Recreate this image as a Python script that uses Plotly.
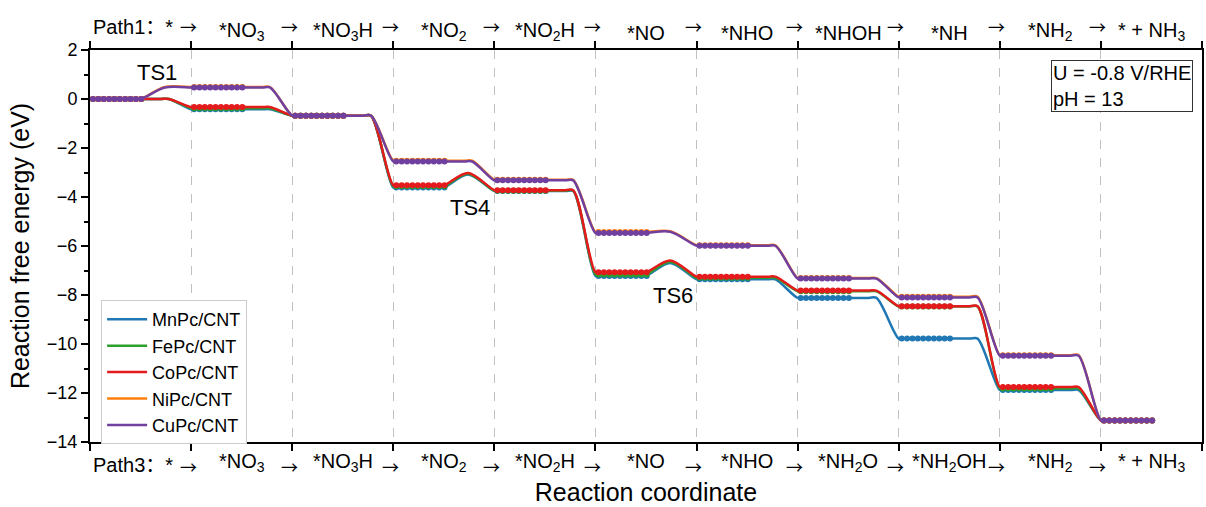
import plotly.graph_objects as go

# ---------------- data ----------------
series_names = ["MnPc/CNT", "FePc/CNT", "CoPc/CNT", "NiPc/CNT", "CuPc/CNT"]
colors = ["#1f77b4", "#2ca02c", "#e41a1c", "#ff7f0e", "#7040a0"]

E_Mn = [0, -0.42, -0.68, -3.61, -3.76, -7.22, -7.36, -8.12, -9.78, -11.88, -13.12]
E_Fe = [0, -0.38, -0.68, -3.56, -3.74, -7.16, -7.30, -7.85, -8.47, -11.82, -13.12]
E_Co = [0, -0.33, -0.68, -3.52, -3.72, -7.07, -7.25, -7.82, -8.46, -11.76, -13.12]
E_Ni = [0, 0.49, -0.68, -2.52, -3.30, -5.43, -5.97, -7.31, -8.07, -10.46, -13.12]
E_Cu = [0, 0.47, -0.68, -2.55, -3.32, -5.47, -5.99, -7.33, -8.10, -10.48, -13.12]

# transition-state energies: {step index (state i -> i+1): energy}
TS_Mn = {3: -3.08, 5: -6.69}
TS_Fe = {3: -3.05, 5: -6.64}
TS_Co = {3: -3.02, 5: -6.59}
TS_Ni = {0: 0.49, 5: -5.40}
TS_Cu = {0: 0.47, 5: -5.42}

path1_labels = ["Path1\uff1a*", "*NO<sub>3</sub>", "*NO<sub>3</sub>H", "*NO<sub>2</sub>", "*NO<sub>2</sub>H",
                "*NO", "*NHO", "*NHOH", "*NH", "*NH<sub>2</sub>", "* + NH<sub>3</sub>"]
path3_labels = ["Path3\uff1a*", "*NO<sub>3</sub>", "*NO<sub>3</sub>H", "*NO<sub>2</sub>", "*NO<sub>2</sub>H",
                "*NO", "*NHO", "*NH<sub>2</sub>O", "*NH<sub>2</sub>OH", "*NH<sub>2</sub>", "* + NH<sub>3</sub>"]

all_E = [E_Mn, E_Fe, E_Co, E_Ni, E_Cu]
all_TS = [TS_Mn, TS_Fe, TS_Co, TS_Ni, TS_Cu]

FONT = "Arial, Liberation Sans, Noto Sans CJK SC, sans-serif"
ARROW_FONT = "Noto Sans CJK SC, DejaVu Sans, sans-serif"

# layout of each state on the reaction coordinate
FLAT_IN = 0.05
FLAT_CORNER = 0.70
FLAT_END = 0.78
TS_START, TS_POS = 0.5, 0.74
N_MARK, MARK_START, MARK_STEP = 10, 0.03, 0.053


def key_points(E, TS):
    xs, ys = [], []
    n = len(E)
    for i, e in enumerate(E):
        xs += [i, i + FLAT_IN]
        ys += [e, e]
        if i == n - 1:
            xs.append(i + 0.5); ys.append(e)
            break
        if i in TS:
            xs += [i + TS_START - 0.08, i + TS_START, i + TS_POS]
            ys += [e, e, TS[i]]
        else:
            xs += [i + FLAT_CORNER, i + FLAT_END]
            ys += [e, e]
    return xs, ys


fig = go.Figure()
for name, col, E, TS in zip(series_names, colors, all_E, all_TS):
    xs, ys = key_points(E, TS)
    fig.add_trace(go.Scatter(x=xs, y=ys, mode="lines", name=name,
                             line=dict(color=col, width=2.5, shape="spline", smoothing=0.9)))
    mx, my = [], []
    for i, e in enumerate(E):
        for k in range(N_MARK):
            mx.append(i + MARK_START + k * MARK_STEP)
            my.append(e)
    fig.add_trace(go.Scatter(x=mx, y=my, mode="markers", showlegend=False, hoverinfo="skip",
                             marker=dict(color=col, size=6, symbol="circle")))

LBL = 20
ann = []
# top / bottom path labels
for i, (t1, t3) in enumerate(zip(path1_labels, path3_labels)):
    if i == 0:
        ann.append(dict(x=0.01, y=1.0, xref="x", yref="paper", text=t1, showarrow=False,
                        xanchor="left", yanchor="bottom", yshift=10, font=dict(size=LBL)))
        ann.append(dict(x=0.01, y=0.0, xref="x", yref="paper", text=t3, showarrow=False,
                        xanchor="left", yanchor="top", yshift=-10, font=dict(size=LBL)))
    else:
        ann.append(dict(x=i + 0.5, y=1.0, xref="x", yref="paper", text=t1, showarrow=False,
                        xanchor="center", yanchor="bottom", yshift=4, font=dict(size=LBL)))
        ann.append(dict(x=i + 0.5, y=0.0, xref="x", yref="paper", text=t3, showarrow=False,
                        xanchor="center", yanchor="top", yshift=-6, font=dict(size=LBL)))
        ann.append(dict(x=i, y=1.0, xref="x", yref="paper", text="\u2192", showarrow=False,
                        xanchor="center", yanchor="bottom", yshift=9, xshift=-3,
                        font=dict(size=17, family=ARROW_FONT)))
        ann.append(dict(x=i, y=0.0, xref="x", yref="paper", text="\u2192", showarrow=False,
                        xanchor="center", yanchor="top", yshift=-10, xshift=-3,
                        font=dict(size=17, family=ARROW_FONT)))

# TS labels
ann.append(dict(x=0.66, y=1.07, text="TS1", showarrow=False, font=dict(size=22)))
ann.append(dict(x=3.76, y=-4.42, text="TS4", showarrow=False, font=dict(size=22)))
ann.append(dict(x=5.77, y=-8.02, text="TS6", showarrow=False, font=dict(size=22)))

# condition box
ann.append(dict(x=10.91, y=1.6, text="U = -0.8 V/RHE<br>pH = 13", showarrow=False,
                xanchor="right", yanchor="top", align="left", bordercolor="#333",
                borderwidth=1, borderpad=1, bgcolor="white", font=dict(size=20)))

fig.update_layout(
    width=1206, height=507,
    margin=dict(l=90, r=2, t=50, b=65),
    paper_bgcolor="white", plot_bgcolor="white",
    font=dict(family=FONT, size=18, color="black"),
    showlegend=True,
    legend=dict(x=0.01, y=0.362, xanchor="left", yanchor="top", bordercolor="#cccccc",
                borderwidth=1, bgcolor="white", font=dict(size=18), tracegroupgap=0,
                itemwidth=40),
    annotations=ann,
    xaxis=dict(range=[0, 11], tickvals=list(range(12)), showticklabels=False,
               ticks="outside", ticklen=7, tickwidth=1.5, tickcolor="black",
               showline=True, linecolor="black", linewidth=2, mirror="ticks",
               showgrid=True, gridcolor="#c0c0c0", griddash="dash", gridwidth=1,
               zeroline=False,
               title=dict(text="Reaction coordinate", font=dict(size=25), standoff=33)),
    yaxis=dict(range=[-14, 2], dtick=2, tick0=0, ticks="outside", ticklen=7, tickwidth=1.5,
               tickcolor="black", showline=True, linecolor="black", linewidth=2, mirror=True,
               showgrid=False, zeroline=False,
               minor=dict(dtick=1, ticks="outside", ticklen=4, tickcolor="black", tickwidth=1.5),
               tickfont=dict(size=18),
               title=dict(text="Reaction free energy (eV)", font=dict(size=25), standoff=10)),
)

fig.write_html("out.html")
